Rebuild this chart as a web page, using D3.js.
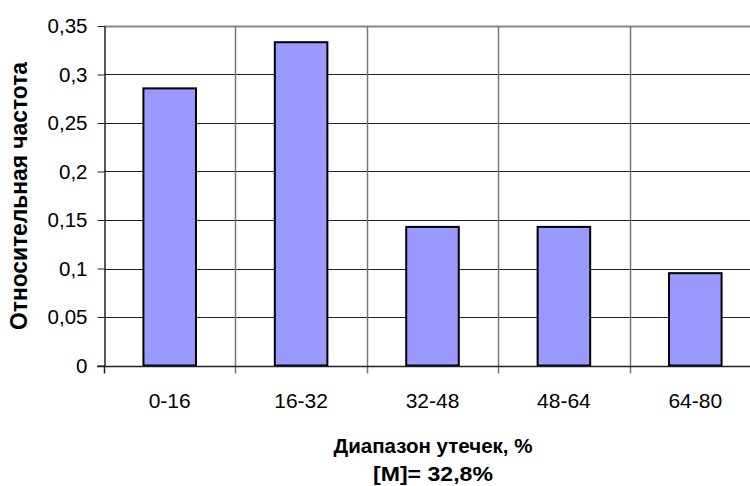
<!DOCTYPE html>
<html>
<head>
<meta charset="utf-8">
<script src="https://cdn.jsdelivr.net/npm/d3@7"></script>
<style>
  html, body { margin: 0; padding: 0; background: #fff; }
  svg { display: block; font-family: "Liberation Sans", Arial, sans-serif; }
</style>
</head>
<body>
<svg id="chart" width="750" height="486"></svg>
<script>
// Leak-range histogram: relative frequency per interval
const categories = ["0-16", "16-32", "32-48", "48-64", "64-80"];
const frequencies = [0.2857, 0.3333, 0.1429, 0.1429, 0.0952];
const yTicks = [0, 0.05, 0.1, 0.15, 0.2, 0.25, 0.3, 0.35];
const yTickLabels = ["0", "0,05", "0,1", "0,15", "0,2", "0,25", "0,3", "0,35"];
const yTitle = "Относительная частота";
const xTitleLines = ["Диапазон утечек, %", "[M]= 32,8%"];

const svg = d3.select("#chart");
const plot = { left: 104, right: 761, top: 26, bottom: 365.5 };

const x = d3.scaleBand()
  .domain(categories)
  .range([plot.left, plot.right])
  .paddingInner(0)
  .paddingOuter(0);

const y = d3.scaleLinear()
  .domain([0, 0.35])
  .range([plot.bottom, plot.top]);

// horizontal gridlines
svg.append("g")
  .selectAll("line")
  .data(yTicks.slice(1))
  .join("line")
  .attr("x1", plot.left)
  .attr("x2", plot.right)
  .attr("y1", d => Math.round(y(d)) + 0.5)
  .attr("y2", d => Math.round(y(d)) + 0.5)
  .attr("stroke", d => d === 0.35 ? "#888" : "#222")
  .attr("stroke-width", d => d === 0.35 ? 2 : 1);

// vertical gridlines at category boundaries (with ticks below the axis)
const bounds = categories.map(c => x(c)).concat([x(categories[categories.length - 1]) + x.bandwidth()]);
svg.append("g")
  .selectAll("line")
  .data(bounds.slice(1))
  .join("line")
  .attr("x1", d => Math.round(d) + 0.5)
  .attr("x2", d => Math.round(d) + 0.5)
  .attr("y1", plot.top)
  .attr("y2", plot.bottom + 8)
  .attr("stroke", "#777")
  .attr("stroke-width", 1.5);

// bars
svg.append("g")
  .selectAll("rect")
  .data(frequencies)
  .join("rect")
  .attr("x", (d, i) => x(categories[i]) + x.bandwidth() * 0.3)
  .attr("width", x.bandwidth() * 0.4)
  .attr("y", d => y(d))
  .attr("height", d => y(0) - y(d))
  .attr("fill", "#9999FF")
  .attr("stroke", "#000")
  .attr("stroke-width", 2);

// y axis
const yAxis = d3.axisLeft(y)
  .tickValues(yTicks)
  .tickFormat((d, i) => yTickLabels[i])
  .tickSize(7)
  .tickSizeOuter(0)
  .tickPadding(10);

const gy = svg.append("g")
  .attr("transform", `translate(${plot.left + 0.5},0)`)
  .call(yAxis);
gy.select(".domain").attr("stroke", "#222").attr("stroke-width", 1.5);
gy.selectAll(".tick line").attr("stroke", "#222");
gy.selectAll(".tick text")
  .attr("font-size", 20.5)
  .attr("font-family", "Liberation Sans, Arial, sans-serif")
  .attr("fill", "#000");

// x axis line
svg.append("line")
  .attr("x1", plot.left - 7)
  .attr("x2", plot.right)
  .attr("y1", Math.round(plot.bottom) + 0.5)
  .attr("y2", Math.round(plot.bottom) + 0.5)
  .attr("stroke", "#222")
  .attr("stroke-width", 1.5);

// left-edge tick below the axis
svg.append("line")
  .attr("x1", plot.left + 0.5)
  .attr("x2", plot.left + 0.5)
  .attr("y1", plot.bottom)
  .attr("y2", plot.bottom + 8)
  .attr("stroke", "#222")
  .attr("stroke-width", 1.5);

// category labels
svg.append("g")
  .selectAll("text")
  .data(categories)
  .join("text")
  .attr("x", d => x(d) + x.bandwidth() / 2)
  .attr("y", 408)
  .attr("text-anchor", "middle")
  .attr("font-size", 21)
  .attr("fill", "#000")
  .text(d => d);

// axis titles
svg.append("text")
  .attr("transform", `translate(27,196) rotate(-90)`)
  .attr("text-anchor", "middle")
  .attr("font-size", 24)
  .attr("font-weight", "bold")
  .attr("fill", "#000")
  .attr("textLength", 268)
  .attr("lengthAdjust", "spacingAndGlyphs")
  .text(yTitle);

const xTitleWidths = [199, 120];
svg.append("g")
  .selectAll("text")
  .data(xTitleLines)
  .join("text")
  .attr("x", 433)
  .attr("y", (d, i) => 453 + i * 28)
  .attr("text-anchor", "middle")
  .attr("font-size", 20.5)
  .attr("font-weight", "bold")
  .attr("fill", "#000")
  .attr("textLength", (d, i) => xTitleWidths[i])
  .attr("lengthAdjust", "spacingAndGlyphs")
  .text(d => d);
</script>
</body>
</html>
